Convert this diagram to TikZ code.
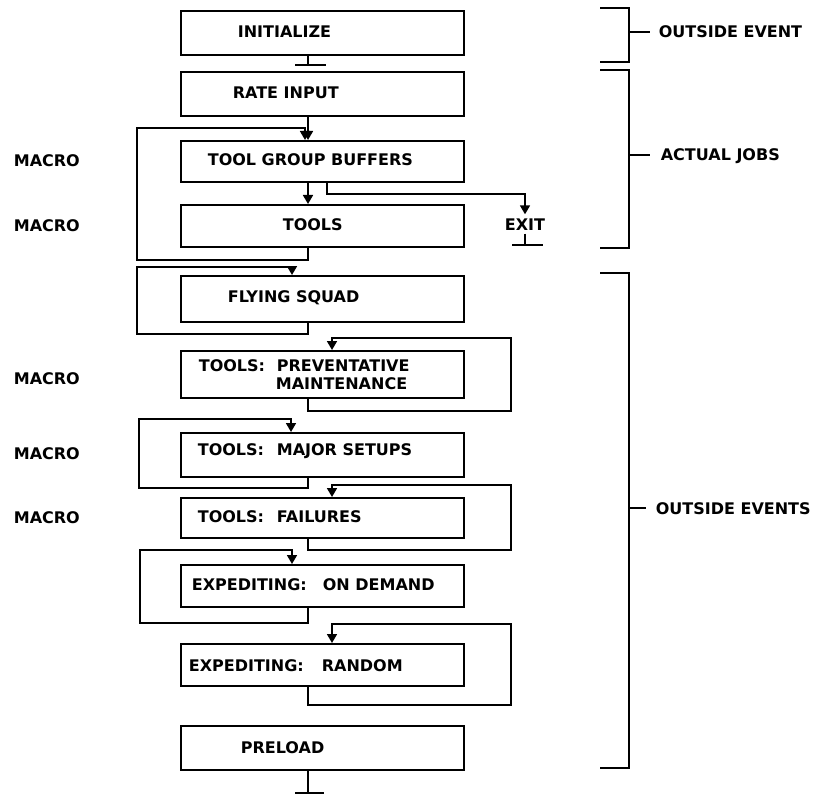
\documentclass[tikz,border=0pt]{standalone}
\usepackage{fontspec}
\setmainfont{DejaVu Sans}
\usetikzlibrary{arrows.meta,calc}
\begin{document}
\begin{tikzpicture}[x=1pt,y=-1pt,line width=1.7pt,line join=miter,
  box/.style={draw,rectangle,minimum width=283pt,inner sep=0pt,anchor=north west},
  txt/.style={anchor=base west,inner sep=0pt,font=\bfseries\fontsize{16}{19}\selectfont},
  lab/.style={anchor=base west,inner sep=0pt,font=\bfseries\fontsize{16}{19}\selectfont},
  arr/.style={-{Triangle[length=9pt,width=10pt]}}]
\useasboundingbox (0,0) rectangle (821,794);
% column coordinates
\coordinate (cx) at (308,0);
\coordinate (ex) at (327,0);
\coordinate (rx) at (332,0);
\coordinate (R) at (511,0);
% boxes
\node[box,minimum height=44pt] (init) at (180,10) {};
\node[box,minimum height=44pt] (rate) at (180,71) {};
\node[box,minimum height=41pt] (tgb) at (180,140) {};
\node[box,minimum height=42pt] (tools) at (180,204) {};
\node[box,minimum height=46pt] (fly) at (180,275) {};
\node[box,minimum height=47pt] (pm) at (180,350) {};
\node[box,minimum height=44pt] (major) at (180,432) {};
\node[box,minimum height=40pt] (fail) at (180,497) {};
\node[box,minimum height=42pt] (demand) at (180,564) {};
\node[box,minimum height=42pt] (random) at (180,643) {};
\node[box,minimum height=44pt] (preload) at (180,725) {};
% box texts
\node[txt] (tinit) at (237,38) {INITIALIZE};
\node[txt] (trate) at (232,99) {RATE INPUT};
\node[txt] (ttgb) at (207,166) {TOOL GROUP BUFFERS};
\node[txt] (ttools) at (282,231) {TOOLS};
\node[txt] (tfly) at (227,302) {FLYING SQUAD};
\node[txt] (tpm1) at (198,371) {TOOLS:};
\node[txt] (tpm2) at (276,371) {PREVENTATIVE};
\node[txt] (tpm3) at (275,389) {MAINTENANCE};
\node[txt] (tmaj1) at (197,455) {TOOLS:};
\node[txt] (tmaj2) at (276,455) {MAJOR SETUPS};
\node[txt] (tfail1) at (197,522) {TOOLS:};
\node[txt] (tfail2) at (276,522) {FAILURES};
\node[txt] (tdem1) at (191,590) {EXPEDITING:};
\node[txt] (tdem2) at (322,590) {ON DEMAND};
\node[txt] (tran1) at (188,671) {EXPEDITING:};
\node[txt] (tran2) at (321,671) {RANDOM};
\node[txt] (tpre) at (240,753) {PRELOAD};
% MACRO labels
\node[lab] (m1) at (13,167) {MACRO};
\node[lab] (m2) at (13,232) {MACRO};
\node[lab] (m3) at (13,384) {MACRO};
\node[lab] (m4) at (13,459) {MACRO};
\node[lab] (m5) at (13,523) {MACRO};
% init terminator
\draw (init.south -| cx) -- ++(0,9) coordinate (it);
\draw ($(it)+(-13,0)$) -- ($(it)+(18,0)$);
% main flow
\draw[arr] (rate.south -| cx) -- (tgb.north -| cx);
\draw[arr] (tgb.south -| cx) -- (tools.north -| cx);
% exit
\node[txt,anchor=center,inner sep=1pt] (exit) at (525,225) {EXIT};
\draw[arr] (tgb.south -| ex) -- ++(0,11) -| ($(exit.north)+(0,-3)$);
\draw ($(exit.south)+(0,1)$) -- ++(0,11) coordinate (et);
\draw ($(et)+(-13,0)$) -- ($(et)+(18,0)$);
% left loops
\draw[arr] (tools.south -| cx) -- ++(0,12) -| ($(tgb.north -| 137,0)+(0,-12)$) -| ($(tgb.north -| cx)+(-3,0)$);
\draw[arr] (fly.south -| cx) -- ++(0,11) -| ($(fly.north -| 137,0)+(0,-8)$) -| ($(fly.north -| cx)+(-16,0)$);
\draw[arr] (major.south -| cx) -- ++(0,10) -| ($(major.north -| 139,0)+(0,-13)$) -| ($(major.north -| cx)+(-17,0)$);
\draw[arr] (demand.south -| cx) -- ++(0,15) -| ($(demand.north -| 140,0)+(0,-14)$) -| ($(demand.north -| cx)+(-16,0)$);
% right loops
\draw[arr] (pm.south -| cx) -- ++(0,12) -| ($(pm.north -| R)+(0,-12)$) -| (pm.north -| rx);
\draw[arr] (fail.south -| cx) -- ++(0,11) -| ($(fail.north -| R)+(0,-12)$) -| (fail.north -| rx);
\draw[arr] (random.south -| cx) -- ++(0,18) -| ($(random.north -| R)+(0,-19)$) -| (random.north -| rx);
% preload terminator
\draw (preload.south -| cx) -- ++(0,22) coordinate (pt);
\draw ($(pt)+(-13,0)$) -- ($(pt)+(16,0)$);
% brackets
\node[lab] (oe) at (658,38) {OUTSIDE EVENT};
\draw (600,8) -- (629,8) -- (629,62) -- (600,62);
\draw (629,32) -- ($(oe.base west)+(-8,-6)$);
\node[lab] (aj) at (660,161) {ACTUAL JOBS};
\draw (600,70) -- (629,70) -- (629,248) -- (600,248);
\draw (629,155) -- ($(aj.base west)+(-10,-6)$);
\node[lab] (oes) at (655,514) {OUTSIDE EVENTS};
\draw (600,273) -- (629,273) -- (629,768) -- (600,768);
\draw (629,508) -- ($(oes.base west)+(-9,-6)$);
\end{tikzpicture}
\end{document}
